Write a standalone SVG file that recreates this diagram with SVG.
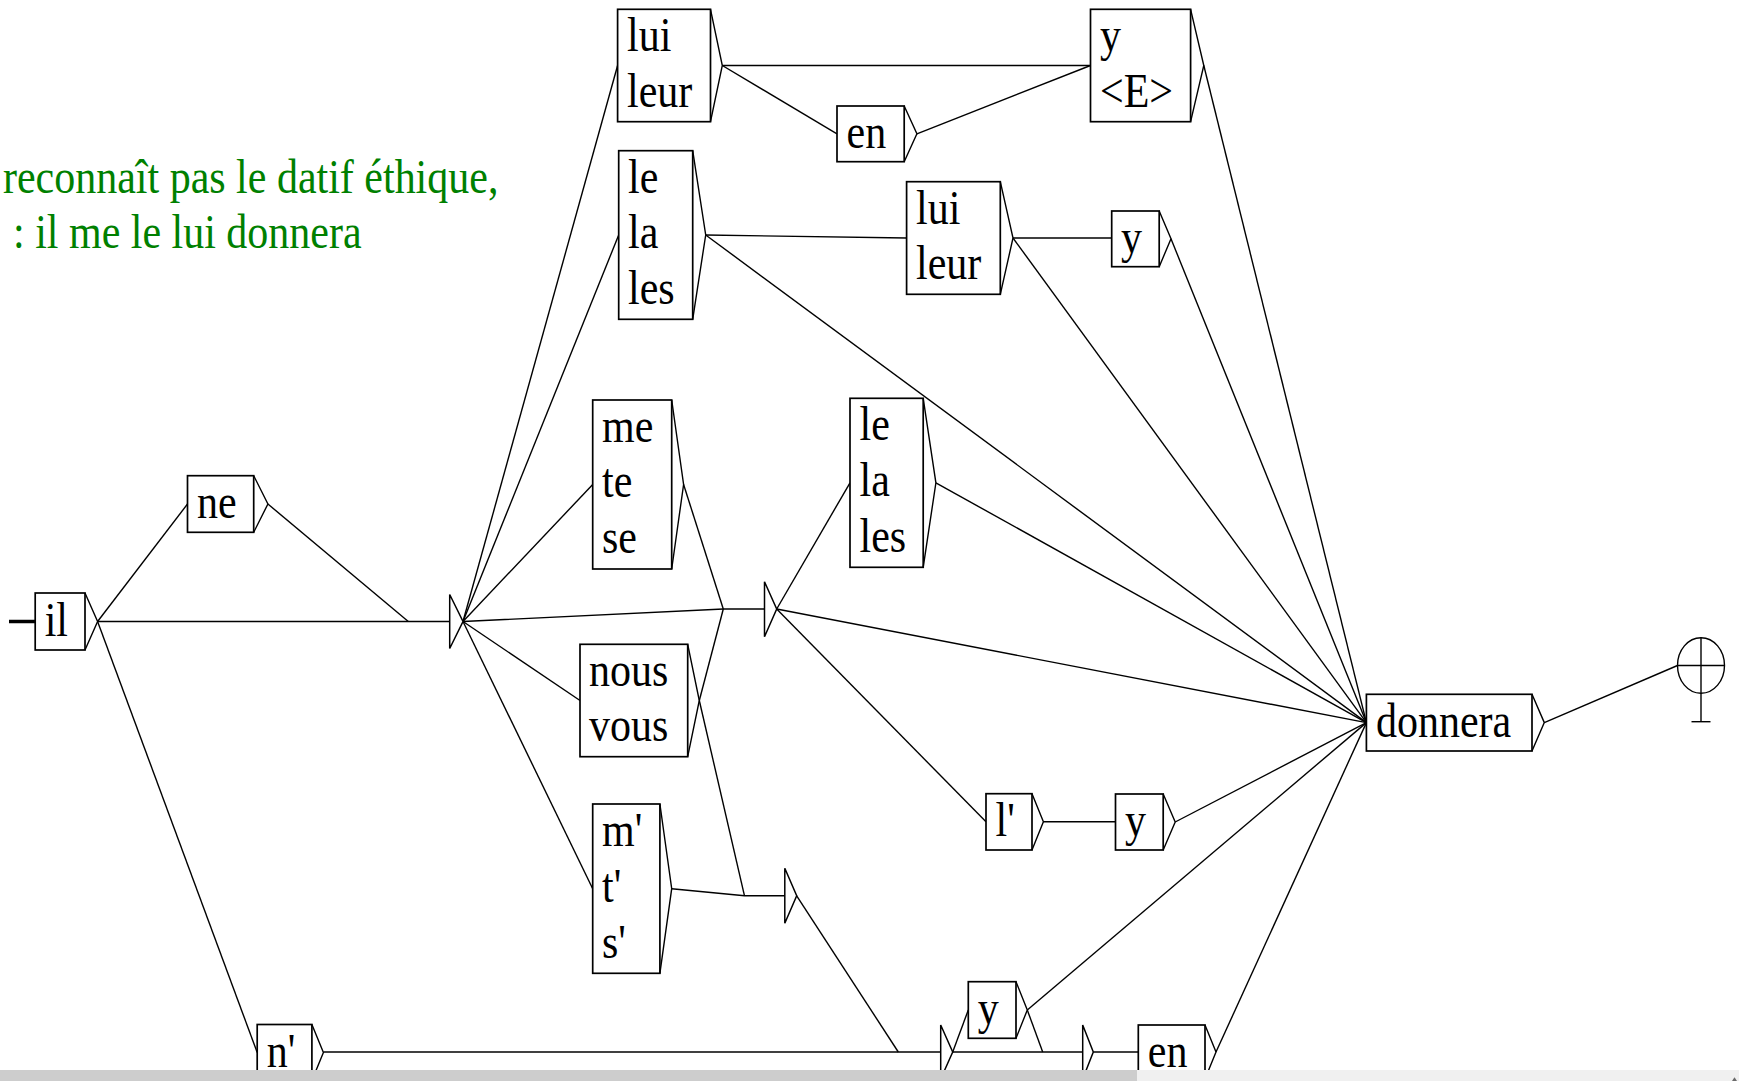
<svg xmlns="http://www.w3.org/2000/svg" width="1739" height="1081" viewBox="0 0 1739 1081">
<style>
.bg{fill:#fff}
.e{stroke:#000;stroke-width:1.4;fill:none;stroke-linejoin:miter}
.b{fill:#fff;stroke:#000;stroke-width:1.7}
.a{fill:none;stroke:#000;stroke-width:1.4}
.n{fill:#fff;stroke:#000;stroke-width:1.5}
.t{font-family:"Liberation Serif","Times New Roman",serif;font-size:48px;fill:#000}
.c{font-family:"Liberation Serif","Times New Roman",serif;font-size:48px;fill:#008000}
</style>
<rect class="bg" x="0" y="0" width="1739" height="1081"/>
<g id="comment">
<text class="c" transform="translate(3 193.3) scale(.875 1)">reconnaît pas le datif éthique,</text>
<text class="c" transform="translate(13 248.3) scale(.875 1)">: il me le lui donnera</text>
</g>
<g id="connectors">
<line x1="9" y1="621.5" x2="35.2" y2="621.5" stroke="#000" stroke-width="3.5"/>
<polyline class="e" points="97.6,621.5 187.5,504"/>
<polyline class="e" points="97.6,621.5 449.7,621.5"/>
<polyline class="e" points="97.6,621.5 257.2,1052.5"/>
<polyline class="e" points="267.9,504 408.3,621.5"/>
<polyline class="e" points="463,621.5 617.6,65.5"/>
<polyline class="e" points="463,621.5 618.7,235"/>
<polyline class="e" points="463,621.5 592.7,484.5"/>
<polyline class="e" points="463,621.5 723.3,609 764.5,609"/>
<polyline class="e" points="463,621.5 580,700.5"/>
<polyline class="e" points="463,621.5 592.7,888.7"/>
<polyline class="e" points="722.3,65.5 1090.5,65.5"/>
<polyline class="e" points="722.3,65.5 837,133.8"/>
<polyline class="e" points="916.9,133.8 1090.5,65.5"/>
<polyline class="e" points="1203.8,65.5 1366.4,722.6"/>
<polyline class="e" points="705.7,235 906.6,238"/>
<polyline class="e" points="705.7,235 1366.4,722.6"/>
<polyline class="e" points="1013,238 1111.7,238"/>
<polyline class="e" points="1013,238 1366.4,722.6"/>
<polyline class="e" points="1171,238.8 1366.4,722.6"/>
<polyline class="e" points="683.6,484.5 723.3,609"/>
<polyline class="e" points="699.3,700.5 723.3,609"/>
<polyline class="e" points="699.3,700.5 744.5,895.8"/>
<polyline class="e" points="671.7,888.7 744.5,895.8 784.8,895.8"/>
<polyline class="e" points="776.7,609 850,482.8"/>
<polyline class="e" points="776.7,609 1366.4,722.6"/>
<polyline class="e" points="776.7,609 986,821.8"/>
<polyline class="e" points="935.9,482.8 1366.4,722.6"/>
<polyline class="e" points="1043.4,821.8 1115.5,821.8"/>
<polyline class="e" points="1175.2,822 1366.4,722.6"/>
<polyline class="e" points="323.4,1052 940.7,1052"/>
<polyline class="e" points="796.7,895.8 898.3,1052"/>
<polyline class="e" points="952.7,1052 968.3,1010"/>
<polyline class="e" points="952.7,1052 1082.7,1052"/>
<polyline class="e" points="1027.3,1010 1042.7,1052"/>
<polyline class="e" points="1027.3,1010 1366.4,722.6"/>
<polyline class="e" points="1093.3,1052 1138.3,1052"/>
<polyline class="e" points="1216,1052 1366.4,722.6"/>
<polyline class="e" points="1544.3,722.6 1677.5,665.5"/>
</g>
<g id="il">
<rect class="b" x="35.2" y="593" width="49.8" height="57"/>
<polyline class="a" points="85,593 97.6,621.5 85,650"/>
<text class="t" transform="translate(44.7 636) scale(.875 1)">il</text>
</g>
<g id="ne">
<rect class="b" x="187.5" y="475.7" width="66.2" height="56.6"/>
<polyline class="a" points="253.7,475.7 267.9,504 253.7,532.3"/>
<text class="t" transform="translate(197 517.7) scale(.875 1)">ne</text>
</g>
<g id="n_apos">
<rect class="b" x="257.2" y="1024.5" width="54.7" height="56"/>
<polyline class="a" points="311.9,1024.5 323.4,1052.5 311.9,1080.5"/>
<text class="t" transform="translate(266.7 1066.7) scale(.875 1)">n'</text>
</g>
<g id="empty1">
<polygon class="n" points="449.7,594.5 463,621.5 449.7,648.5"/>
</g>
<g id="lui_leur_1">
<rect class="b" x="617.6" y="9.3" width="92.9" height="112.4"/>
<polyline class="a" points="710.5,9.3 722.3,65.5 710.5,121.7"/>
<text class="t" transform="translate(627 51.3) scale(.875 1)"><tspan x="0">lui</tspan><tspan x="0" dy="55.7">leur</tspan></text>
</g>
<g id="en_1">
<rect class="b" x="837" y="106" width="67.2" height="55.7"/>
<polyline class="a" points="904.2,106 916.9,133.8 904.2,161.7"/>
<text class="t" transform="translate(846.5 147.5) scale(.875 1)">en</text>
</g>
<g id="y_E">
<rect class="b" x="1090.5" y="9.3" width="100.1" height="112.4"/>
<polyline class="a" points="1190.6,9.3 1203.8,65.5 1190.6,121.7"/>
<text class="t" transform="translate(1100 51.3) scale(.875 1)"><tspan x="0">y</tspan><tspan x="0" dy="55.7">&lt;E&gt;</tspan></text>
</g>
<g id="le_la_les_1">
<rect class="b" x="618.7" y="150.7" width="74" height="168.6"/>
<polyline class="a" points="692.7,150.7 705.7,235 692.7,319.3"/>
<text class="t" transform="translate(628 192.7) scale(.875 1)"><tspan x="0">le</tspan><tspan x="0" dy="55.7">la</tspan><tspan x="0" dy="55.7">les</tspan></text>
</g>
<g id="lui_leur_2">
<rect class="b" x="906.6" y="181.7" width="93.7" height="112.6"/>
<polyline class="a" points="1000.3,181.7 1013,238 1000.3,294.3"/>
<text class="t" transform="translate(916 223.5) scale(.875 1)"><tspan x="0">lui</tspan><tspan x="0" dy="55.7">leur</tspan></text>
</g>
<g id="y_2">
<rect class="b" x="1111.7" y="211" width="47.5" height="55.7"/>
<polyline class="a" points="1159.2,211 1171,238.8 1159.2,266.7"/>
<text class="t" transform="translate(1121 252.5) scale(.875 1)">y</text>
</g>
<g id="me_te_se">
<rect class="b" x="592.7" y="400" width="79" height="169"/>
<polyline class="a" points="671.7,400 683.6,484.5 671.7,569"/>
<text class="t" transform="translate(602 441.8) scale(.875 1)"><tspan x="0">me</tspan><tspan x="0" dy="55.7">te</tspan><tspan x="0" dy="55.7">se</tspan></text>
</g>
<g id="nous_vous">
<rect class="b" x="580" y="644.3" width="107.7" height="112.4"/>
<polyline class="a" points="687.7,644.3 699.3,700.5 687.7,756.7"/>
<text class="t" transform="translate(589 685.8) scale(.875 1)"><tspan x="0">nous</tspan><tspan x="0" dy="55.7">vous</tspan></text>
</g>
<g id="m_t_s">
<rect class="b" x="592.7" y="804" width="67.2" height="169.3"/>
<polyline class="a" points="659.9,804 671.7,888.7 659.9,973.3"/>
<text class="t" transform="translate(602 846.3) scale(.875 1)"><tspan x="0">m'</tspan><tspan x="0" dy="55.7">t'</tspan><tspan x="0" dy="55.7">s'</tspan></text>
</g>
<g id="empty2">
<polygon class="n" points="764.5,581.7 776.7,609 764.5,636.7"/>
</g>
<g id="empty3">
<polygon class="n" points="784.8,868.3 796.7,895.8 784.8,923.3"/>
</g>
<g id="le_la_les_2">
<rect class="b" x="850" y="398.3" width="73.2" height="169"/>
<polyline class="a" points="923.2,398.3 935.9,482.8 923.2,567.3"/>
<text class="t" transform="translate(859.5 440.2) scale(.875 1)"><tspan x="0">le</tspan><tspan x="0" dy="55.7">la</tspan><tspan x="0" dy="55.7">les</tspan></text>
</g>
<g id="l_apos">
<rect class="b" x="986" y="793.7" width="46" height="56.3"/>
<polyline class="a" points="1032,793.7 1043.4,821.8 1032,850"/>
<text class="t" transform="translate(995.5 835.5) scale(.875 1)">l'</text>
</g>
<g id="y_4">
<rect class="b" x="1115.5" y="794" width="47.7" height="56"/>
<polyline class="a" points="1163.2,794 1175.2,822 1163.2,850"/>
<text class="t" transform="translate(1125 835.7) scale(.875 1)">y</text>
</g>
<g id="empty4">
<polygon class="n" points="940.7,1025 952.7,1052 940.7,1079"/>
</g>
<g id="y_3">
<rect class="b" x="968.3" y="981.7" width="47.7" height="56.6"/>
<polyline class="a" points="1016,981.7 1027.3,1010 1016,1038.3"/>
<text class="t" transform="translate(977.8 1023.5) scale(.875 1)">y</text>
</g>
<g id="empty5">
<polygon class="n" points="1082.7,1025 1093.3,1052 1082.7,1079"/>
</g>
<g id="en_2">
<rect class="b" x="1138.3" y="1025" width="66.7" height="56"/>
<polyline class="a" points="1205,1025 1216,1052 1205,1079"/>
<text class="t" transform="translate(1147.8 1066.8) scale(.875 1)">en</text>
</g>
<g id="donnera">
<rect class="b" x="1366.4" y="694.3" width="165.6" height="56.7"/>
<polyline class="a" points="1532,694.3 1544.3,722.6 1532,751"/>
<text class="t" transform="translate(1376 736.5) scale(.875 1)">donnera</text>
</g>
<g id="final">
<ellipse class="a" cx="1701" cy="665.5" rx="23.5" ry="27.8"/>
<line class="a" x1="1677.5" y1="665.5" x2="1724.5" y2="665.5"/>
<line class="a" x1="1701" y1="637.7" x2="1701" y2="721.7"/>
<line class="a" x1="1691.5" y1="721.7" x2="1710.5" y2="721.7"/>
</g>
<g id="scrollbar">
<rect x="0" y="1070" width="1137" height="11" fill="#cdcdcd"/>
<rect x="1137" y="1070" width="602" height="11" fill="#f0f0f0"/>
<polygon points="1732,1081 1734.5,1077.3 1737,1081" fill="#6a6a6a"/>
</g>
</svg>
